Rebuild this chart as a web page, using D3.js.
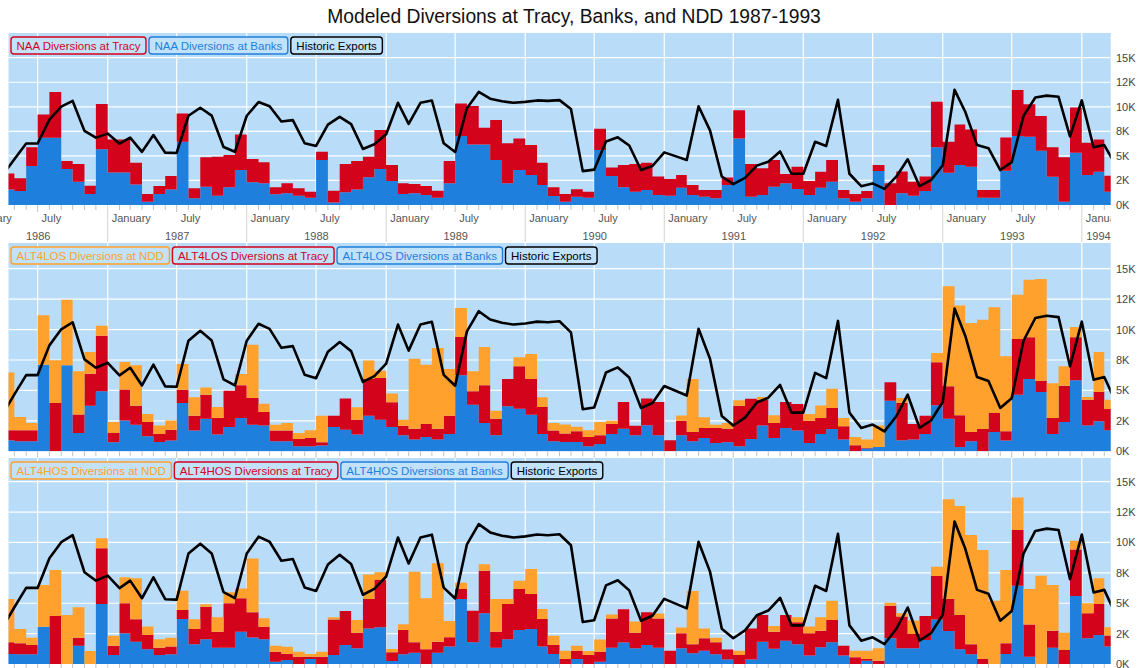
<!DOCTYPE html>
<html><head><meta charset="utf-8">
<script src="https://cdn.jsdelivr.net/npm/d3@7"></script>
<style>
body{margin:0;background:#fff}
svg{display:block;font-family:"Liberation Sans",Arial,Helvetica,sans-serif}
</style>
</head><body>
<svg id="chart" width="1144" height="668"></svg>
<script>
// ---------- DATA ----------
const months = [
 "1986-04","1986-05","1986-06","1986-07","1986-08","1986-09","1986-10","1986-11","1986-12",
 "1987-01","1987-02","1987-03","1987-04","1987-05","1987-06","1987-07","1987-08","1987-09","1987-10","1987-11","1987-12",
 "1988-01","1988-02","1988-03","1988-04","1988-05","1988-06","1988-07","1988-08","1988-09","1988-10","1988-11","1988-12",
 "1989-01","1989-02","1989-03","1989-04","1989-05","1989-06","1989-07","1989-08","1989-09","1989-10","1989-11","1989-12",
 "1990-01","1990-02","1990-03","1990-04","1990-05","1990-06","1990-07","1990-08","1990-09","1990-10","1990-11","1990-12",
 "1991-01","1991-02","1991-03","1991-04","1991-05","1991-06","1991-07","1991-08","1991-09","1991-10","1991-11","1991-12",
 "1992-01","1992-02","1992-03","1992-04","1992-05","1992-06","1992-07","1992-08","1992-09","1992-10","1992-11","1992-12",
 "1993-01","1993-02","1993-03","1993-04","1993-05","1993-06","1993-07","1993-08","1993-09","1993-10","1993-11","1993-12",
 "1994-01","1994-02","1994-03","1994-04"
];

const historicExports = [
 3070,4670,6260,6260,8700,10020,10600,7550,6860,7270,
 6240,6860,5410,7120,5330,5300,9090,9900,9100,5910,
 5420,9090,10480,10060,8500,8640,6290,6010,8180,8980,
 8230,5700,6180,7200,10410,8270,10410,10640,6280,5390,
 9850,11510,10830,10560,10410,10500,10650,10600,10680,9770,
 3450,3600,6470,6890,6060,3560,3970,5360,4950,4580,
 10060,7600,2900,2120,2770,4010,4400,5450,3180,3180,
 6440,6010,10710,3180,1920,2200,1640,2880,4650,1930,
 2530,4050,11730,9500,6100,5780,3560,4360,9080,10950,
 11140,11020,6980,10650,5880,6100,4000
];

const naaTracy = [
 1630,1290,1900,2370,4650,810,1800,850,4610,3360,
 3360,2210,780,810,1360,2880,1020,2990,3970,3290,
 3630,2370,2140,710,1020,750,610,850,1210,2880,
 2880,2100,3970,1630,1090,950,920,710,2270,3320,
 3900,1700,4070,4070,3220,3050,2270,880,780,750,
 610,2170,880,2270,2820,2780,1870,1700,1290,1020,
 680,850,750,2880,3320,2710,2710,950,2270,1420,
 1630,2210,850,780,750,610,2210,2210,1420,1460,
 4650,3160,4140,3800,780,780,3390,4680,3320,3530,
 2990,4510,4610,3290,3290,1630
];
const naaBanks = [
 1590,1430,3970,6850,6850,3660,2370,1120,5670,3320,
 3320,2100,340,1120,1590,6450,680,1870,950,1800,
 3560,2310,2210,1090,1190,950,750,4580,250,1290,
 1590,2820,3660,2440,1120,1190,1020,750,2210,7020,
 6170,6170,4580,2210,3560,3050,2040,920,340,850,
 750,5600,2950,1800,1360,1530,1020,950,1760,1020,
 850,680,2040,6780,850,1020,1870,2210,1630,1020,
 1760,2370,680,340,680,3460,0,1190,950,1430,
 5870,3290,4070,3900,750,750,3490,7020,6950,5530,
 2880,340,5330,3050,3390,1360
];

const losNdd = [
 4760,1100,600,4050,3500,5390,3560,1780,820,900,
 2270,3310,660,690,740,2110,1510,600,900,0,
 930,4380,680,490,630,490,630,2190,0,0,
 1010,1480,600,710,490,5750,4870,6620,3830,2380,
 1640,3150,660,0,740,2050,790,630,740,360,
 550,1100,270,0,0,0,0,0,440,4350,
 880,270,470,440,0,220,630,0,0,550,
 1040,1590,680,680,680,1750,0,410,0,0,
 770,8210,9010,8950,8980,8680,6160,3640,4740,8350,
 2870,1590,850,220,3280,770
];
const losTracy = [
 820,900,900,0,3970,0,1510,2630,4570,770,
 2550,1560,1180,660,900,1090,1230,1970,1370,2980,
 2680,2190,1120,880,880,600,680,270,930,2550,
 1230,3040,3420,2030,790,900,1070,900,1510,3150,
 1100,3090,1370,2240,3480,2930,2220,880,690,880,
 770,710,820,2190,790,2190,2740,900,1200,770,
 820,1230,1120,3340,3310,2130,1230,2140,2190,1830,
 1310,1720,1100,490,60,0,1510,3070,1290,1510,
 3530,2660,2600,770,1830,1560,770,4570,3420,930,
 1310,2980,3530,2130,2410,1750
];
const losBanks = [
 900,820,820,7120,0,7060,1510,3750,4930,740,
 2520,2190,1230,770,880,3970,1700,2680,1370,2000,
 2740,2190,2110,820,820,410,410,470,2000,1780,
 1370,2930,2600,2000,1310,960,1180,960,1420,6240,
 3830,2330,1310,3700,3500,3010,1420,820,770,770,
 410,600,1420,1860,1310,2140,1310,0,1310,820,
 1100,680,740,410,1010,2110,1100,1920,1700,680,
 1420,1830,960,0,220,360,4160,900,960,1420,
 3780,2680,360,820,0,1590,880,4650,5940,4870,
 1420,2410,5830,2110,2460,1720
];

const hosNdd = [
 3570,1180,600,3430,3780,4030,2500,1070,820,820,
 2140,3370,690,690,740,1590,800,190,1180,910,
 820,4440,690,490,600,410,220,410,170,0,
 1040,2030,630,270,470,5810,4200,6440,1340,520,
 0,520,2690,410,690,2060,820,770,690,410,
 330,1010,330,0,910,0,410,0,490,4390,
 820,380,0,360,0,0,470,0,410,550,
 1100,1590,0,550,690,1020,250,270,1100,0,
 770,8200,8970,8990,8970,5210,6030,2690,2910,7270,
 3760,1430,710,820,2110,690
];
const hosTracy = [
 960,910,770,0,3950,0,660,0,4580,770,
 2470,1840,1180,600,630,740,1260,2690,1320,3650,
 2740,2060,1040,820,490,600,190,600,2930,2800,
 1290,2410,3890,710,2000,850,1210,910,770,820,
 2610,3510,1320,2910,3370,2880,2280,740,410,690,
 740,820,2410,2740,1290,2690,2410,1100,1230,740,
 1010,990,820,740,2550,2190,1410,2110,1810,1840,
 1370,1840,820,550,140,270,2690,2610,1180,1970,
 3570,2630,2830,820,410,0,880,4580,2660,0,
 1400,1150,3840,2060,2550,910
];
const hosBanks = [
 820,800,800,3070,0,0,1510,0,4940,740,
 2520,1840,1210,740,800,3700,1620,2030,1340,1340,
 2660,2190,2030,190,330,0,410,0,740,1560,
 1290,2930,3020,250,800,930,0,930,1430,5350,
 1780,4170,1340,2030,2800,2880,1430,820,0,410,
 0,190,1340,1760,1290,1560,1340,0,1290,880,
 1100,800,380,0,380,1840,1250,1920,1620,690,
 1370,1780,690,0,270,0,2110,1290,1290,1970,
 3670,2720,1210,800,0,0,820,6440,600,0,
 1340,0,5590,2110,2390,1430
];

const yTickValues = [0,2500,5000,7500,10000,12500,15000];
const yTickLabels = ["0K","2K","5K","8K","10K","12K","15K"];
const monthLabelNames = {0:"January", 6:"July"};
const titleText = "Modeled Diversions at Tracy, Banks, and NDD 1987-1993";

// ---------- STYLE ----------
const C = {bg:"#b9dcf9", red:"#d3031c", blue:"#1f7fdc", orange:"#ffa12c", black:"#000"};

const svg = d3.select("#chart");
const plotLeft = 8.5, plotRight = 1110.7;
const x = d3.scaleUtc()
  .domain([new Date(Date.UTC(1987,0,1)), new Date(Date.UTC(1994,0,1))])
  .range([107.7, 1081.8]);
const parseM = d3.utcParse("%Y-%m");
const dates = months.map(parseM);

svg.append("text").attr("x",574).attr("y",23).attr("text-anchor","middle")
  .attr("font-size",19.3).attr("fill","#111").text(titleText);

const panels = [
  {top:33, y0:205, y15:57.7, axis:true,
   keys:[{name:"NAA Diversions at Banks",values:naaBanks,color:C.blue},
         {name:"NAA Diversions at Tracy",values:naaTracy,color:C.red}],
   legend:[["NAA Diversions at Tracy",C.red],["NAA Diversions at Banks",C.blue],["Historic Exports",C.black]]},
  {top:243, y0:451.3, y15:268.7, axis:false,
   keys:[{name:"ALT4LOS Diversions at Banks",values:losBanks,color:C.blue},
         {name:"ALT4LOS Diversions at Tracy",values:losTracy,color:C.red},
         {name:"ALT4LOS Diversions at NDD",values:losNdd,color:C.orange}],
   legend:[["ALT4LOS Diversions at NDD",C.orange],["ALT4LOS Diversions at Tracy",C.red],["ALT4LOS Diversions at Banks",C.blue],["Historic Exports",C.black]]},
  {top:458, y0:664, y15:481.7, axis:false,
   keys:[{name:"ALT4HOS Diversions at Banks",values:hosBanks,color:C.blue},
         {name:"ALT4HOS Diversions at Tracy",values:hosTracy,color:C.red},
         {name:"ALT4HOS Diversions at NDD",values:hosNdd,color:C.orange}],
   legend:[["ALT4HOS Diversions at NDD",C.orange],["ALT4HOS Diversions at Tracy",C.red],["ALT4HOS Diversions at Banks",C.blue],["Historic Exports",C.black]]}
];

const gridDates = d3.utcMonth.every(6).range(new Date(Date.UTC(1986,0,1)), new Date(Date.UTC(1994,7,1)));
const allMonths = d3.utcMonth.range(new Date(Date.UTC(1986,0,1)), new Date(Date.UTC(1994,5,1)))
  .filter(d => x(d) >= plotLeft - 0.5 && x(d) <= plotRight + 0.5);

panels.forEach((p, pi) => {
  const y = d3.scaleLinear().domain([0,15000]).range([p.y0, p.y15]);
  const g = svg.append("g");
  const clipId = "clip" + pi;
  svg.append("clipPath").attr("id", clipId).append("rect")
    .attr("x", plotLeft).attr("y", p.top).attr("width", plotRight - plotLeft).attr("height", p.y0 - p.top);

  g.append("rect").attr("x", plotLeft).attr("y", p.top)
    .attr("width", plotRight - plotLeft).attr("height", p.y0 - p.top).attr("fill", C.bg);

  const plot = g.append("g").attr("clip-path", `url(#${clipId})`);
  // grid
  plot.selectAll(".hg").data(yTickValues.filter(v => v > 0)).join("line")
    .attr("x1", plotLeft).attr("x2", plotRight)
    .attr("y1", d => y(d)).attr("y2", d => y(d))
    .attr("stroke", "#fff").attr("stroke-width", 1.2);
  plot.selectAll(".vg").data(gridDates).join("line")
    .attr("x1", d => x(d)).attr("x2", d => x(d))
    .attr("y1", p.top).attr("y2", p.y0)
    .attr("stroke", "#fff").attr("stroke-width", 1.2);

  // stacked step areas
  const rows = dates.map((d, i) => {
    const r = {date: d};
    p.keys.forEach(k => r[k.name] = k.values[Math.min(i, k.values.length - 1)]);
    return r;
  });
  const layers = d3.stack().keys(p.keys.map(k => k.name))(rows);
  const area = d3.area().curve(d3.curveStepAfter)
    .x(d => x(d.data.date)).y0(d => y(d[0])).y1(d => y(d[1]));
  plot.selectAll(".layer").data(layers).join("path")
    .attr("d", area).attr("fill", (d, i) => p.keys[i].color);

  // historic exports line
  const line = d3.line().x((d, i) => x(dates[i])).y(d => y(d));
  plot.append("path").datum(historicExports).attr("d", line)
    .attr("fill", "none").attr("stroke", C.black).attr("stroke-width", 2.6)
    .attr("stroke-linejoin", "round").attr("stroke-linecap", "round");

  // legend
  let lx = 11;
  const ly = p.top + 4;
  p.legend.forEach(([label, color]) => {
    const lg = g.append("g");
    const rect = lg.append("rect").attr("y", ly).attr("height", 17).attr("rx", 3)
      .attr("fill", "#c2e1fa").attr("stroke", color).attr("stroke-width", 1.4);
    const t = lg.append("text").attr("y", ly + 12.6).attr("font-size", 11.5)
      .attr("fill", color).text(label);
    const w = t.node().getComputedTextLength();
    t.attr("x", lx + 5.5);
    rect.attr("x", lx).attr("width", w + 11);
    lx += w + 11 + 3;
  });

  // y labels
  g.selectAll(".yl").data(yTickValues).join("text")
    .attr("x", 1116).attr("y", d => y(d)).attr("dy", "0.36em")
    .attr("font-size", 11).attr("fill", "#444")
    .text((d, i) => yTickLabels[i]);

  // bottom ticks
  g.selectAll(".mt").data(allMonths).join("line")
    .attr("x1", d => x(d)).attr("x2", d => x(d))
    .attr("y1", p.y0).attr("y2", d => {
      const m = d.getUTCMonth();
      if (p.axis && m === 0) return p.y0 + 37;
      if (m === 6) return p.y0 + 7;
      return p.y0 + 5;
    })
    .attr("stroke", d => d.getUTCMonth() === 0 ? "#d4d4d4" : "#c4c4c4").attr("stroke-width", 1);

  if (p.axis) {
    const labClip = "labclip" + pi;
    svg.append("clipPath").attr("id", labClip).append("rect")
      .attr("x", 0).attr("y", p.y0).attr("width", plotRight).attr("height", 40);
    const ag = g.append("g").attr("clip-path", `url(#${labClip})`);
    const labMonths = d3.utcMonth.range(new Date(Date.UTC(1986,0,1)), new Date(Date.UTC(1994,5,1)))
      .filter(d => monthLabelNames[d.getUTCMonth()] !== undefined);
    ag.selectAll(".ml").data(labMonths).join("text")
      .attr("x", d => x(d) + 4).attr("y", p.y0 + 16.5)
      .attr("font-size", 11).attr("fill", "#555")
      .text(d => monthLabelNames[d.getUTCMonth()]);
    d3.range(1986, 1995).forEach(yr => {
      const mid = (x(new Date(Date.UTC(yr,0,1))) + x(new Date(Date.UTC(yr+1,0,1)))) / 2;
      const t = g.append("text").attr("y", p.y0 + 34.5).attr("font-size", 11)
        .attr("fill", "#555").attr("text-anchor", "middle").text(String(yr));
      const w = t.node().getComputedTextLength();
      const cx = Math.max(plotLeft + w/2, Math.min(plotRight - w/2, mid));
      t.attr("x", cx);
    });
  }
});
</script>
</body></html>
